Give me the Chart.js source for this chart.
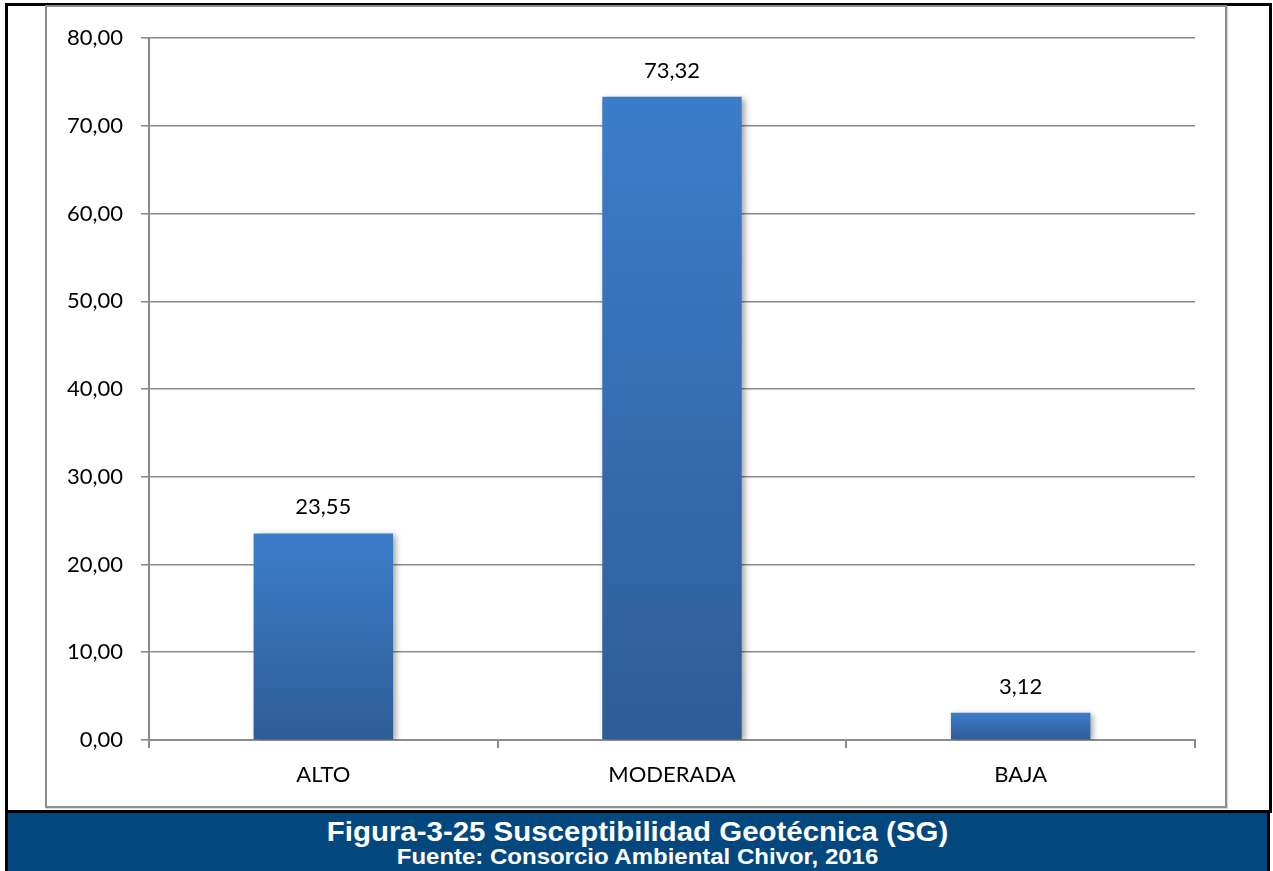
<!DOCTYPE html>
<html lang="es">
<head>
<meta charset="utf-8">
<title>Susceptibilidad Geotécnica (SG)</title>
<script src="https://cdn.jsdelivr.net/npm/chart.js@4/dist/chart.umd.min.js"></script>
<style>
  html, body { margin: 0; padding: 0; background: #ffffff; }
  body { width: 1273px; height: 871px; position: relative; overflow: hidden; }
  #outer {
    position: absolute; left: 5px; top: 3px; width: 1267px; height: 810px;
    border: 3px solid #000; border-bottom: none; box-sizing: border-box;
  }
  #frame {
    position: absolute; left: 45px; top: 5px; width: 1182px; height: 803px;
    border: 2px solid #8e8e8e; box-sizing: border-box; background: #fff;
    box-shadow: 1px 1px 1px rgba(0,0,0,0.15);
  }
  #chartBox { position: absolute; left: 47px; top: 7px; width: 1177px; height: 798px; }
  #caption {
    position: absolute; left: 5px; top: 810px; width: 1265px; height: 61px;
    background: #03477f; border: 3px solid #000; border-bottom: none; box-sizing: border-box;
    color: #fff; font-family: "Liberation Sans", Arial, sans-serif; font-weight: bold;
    text-align: center;
  }
  #caption div { transform: scaleX(1.09); transform-origin: 50% 50%; white-space: nowrap; }
  #caption .t1 { font-size: 27px; line-height: 28px; margin-top: 5px; }
  #caption .t2 { font-size: 22px; line-height: 22px; }
</style>
</head>
<body>
<div id="outer"></div>
<div id="frame"></div>
<div id="chartBox"><canvas id="chart" width="1177" height="798"></canvas></div>
<div id="caption">
  <div class="t1">Figura-3-25 Susceptibilidad Geotécnica (SG)</div>
  <div class="t2">Fuente: Consorcio Ambiental Chivor, 2016</div>
</div>
<script>
// Categories and percentages of geotechnical susceptibility
const categories = ['ALTO', 'MODERADA', 'BAJA'];
const values = [23.55, 73.32, 3.12];
const yTicks = [0, 10, 20, 30, 40, 50, 60, 70, 80];

const FONT = 'Lato, "Open Sans", sans-serif';
const fmt = v => v.toFixed(2).replace('.', ',');

// Vertical gradient for each bar, light on top and darker at the base
function barGradient(ctx) {
  const chart = ctx.chart;
  const yScale = chart.scales && chart.scales.y;
  if (!chart.chartArea || !yScale || ctx.raw === undefined) return '#3a78c3';
  const top = yScale.getPixelForValue(ctx.raw);
  const bottom = yScale.getPixelForValue(0);
  if (!isFinite(top) || !isFinite(bottom) || top >= bottom) return '#3a78c3';
  const g = chart.ctx.createLinearGradient(0, top, 0, bottom);
  g.addColorStop(0, '#3c7dcb');
  g.addColorStop(1, '#2e5d96');
  return g;
}

// Soft drop shadow under the bars
const barShadow = {
  id: 'barShadow',
  beforeDatasetsDraw(chart) {
    const c = chart.ctx;
    c.save();
    c.shadowColor = 'rgba(0,0,0,0.35)';
    c.shadowBlur = 6;
    c.shadowOffsetX = 3;
    c.shadowOffsetY = 2;
  },
  afterDatasetsDraw(chart) { chart.ctx.restore(); }
};

// Value labels above each bar
const valueLabels = {
  id: 'valueLabels',
  afterDatasetsDraw(chart) {
    const c = chart.ctx;
    const meta = chart.getDatasetMeta(0);
    c.save();
    c.fillStyle = '#000';
    c.font = '22px ' + FONT;
    c.textAlign = 'center';
    c.textBaseline = 'alphabetic';
    meta.data.forEach((bar, i) => {
      c.fillText(fmt(values[i]), bar.x, bar.y - 19);
    });
    c.restore();
  }
};

new Chart(document.getElementById('chart'), {
  type: 'bar',
  data: {
    labels: categories,
    datasets: [{
      data: values,
      backgroundColor: barGradient,
      borderWidth: 0,
      barPercentage: 0.4,
      categoryPercentage: 1.0
    }]
  },
  options: {
    responsive: false,
    animation: false,
    events: [],
    layout: { padding: { left: 0, top: 29, right: 29, bottom: 0 } },
    plugins: { legend: { display: false }, tooltip: { enabled: false } },
    scales: {
      x: {
        offset: true,
        grid: { offset: true, drawOnChartArea: false, drawTicks: true, tickLength: 8, color: '#8c8c8c', lineWidth: 2 },
        border: { display: true, color: '#8c8c8c', width: 2 },
        ticks: { color: '#000', font: { family: FONT, size: 22 }, padding: 14, maxRotation: 0 },
        afterFit(scale) { scale.height = 65; }
      },
      y: {
        min: 0, max: 80,
        afterBuildTicks(scale) { scale.ticks = yTicks.map(v => ({ value: v })); },
        grid: { color: '#8c8c8c', lineWidth: 1.6, tickLength: 8, drawTicks: true },
        border: { display: true, color: '#8c8c8c', width: 2 },
        ticks: { color: '#000', font: { family: FONT, size: 22 }, padding: 18, callback: v => fmt(v) },
        afterFit(scale) { scale.width = 102; }
      }
    }
  },
  plugins: [barShadow, valueLabels]
});
</script>
</body>
</html>
